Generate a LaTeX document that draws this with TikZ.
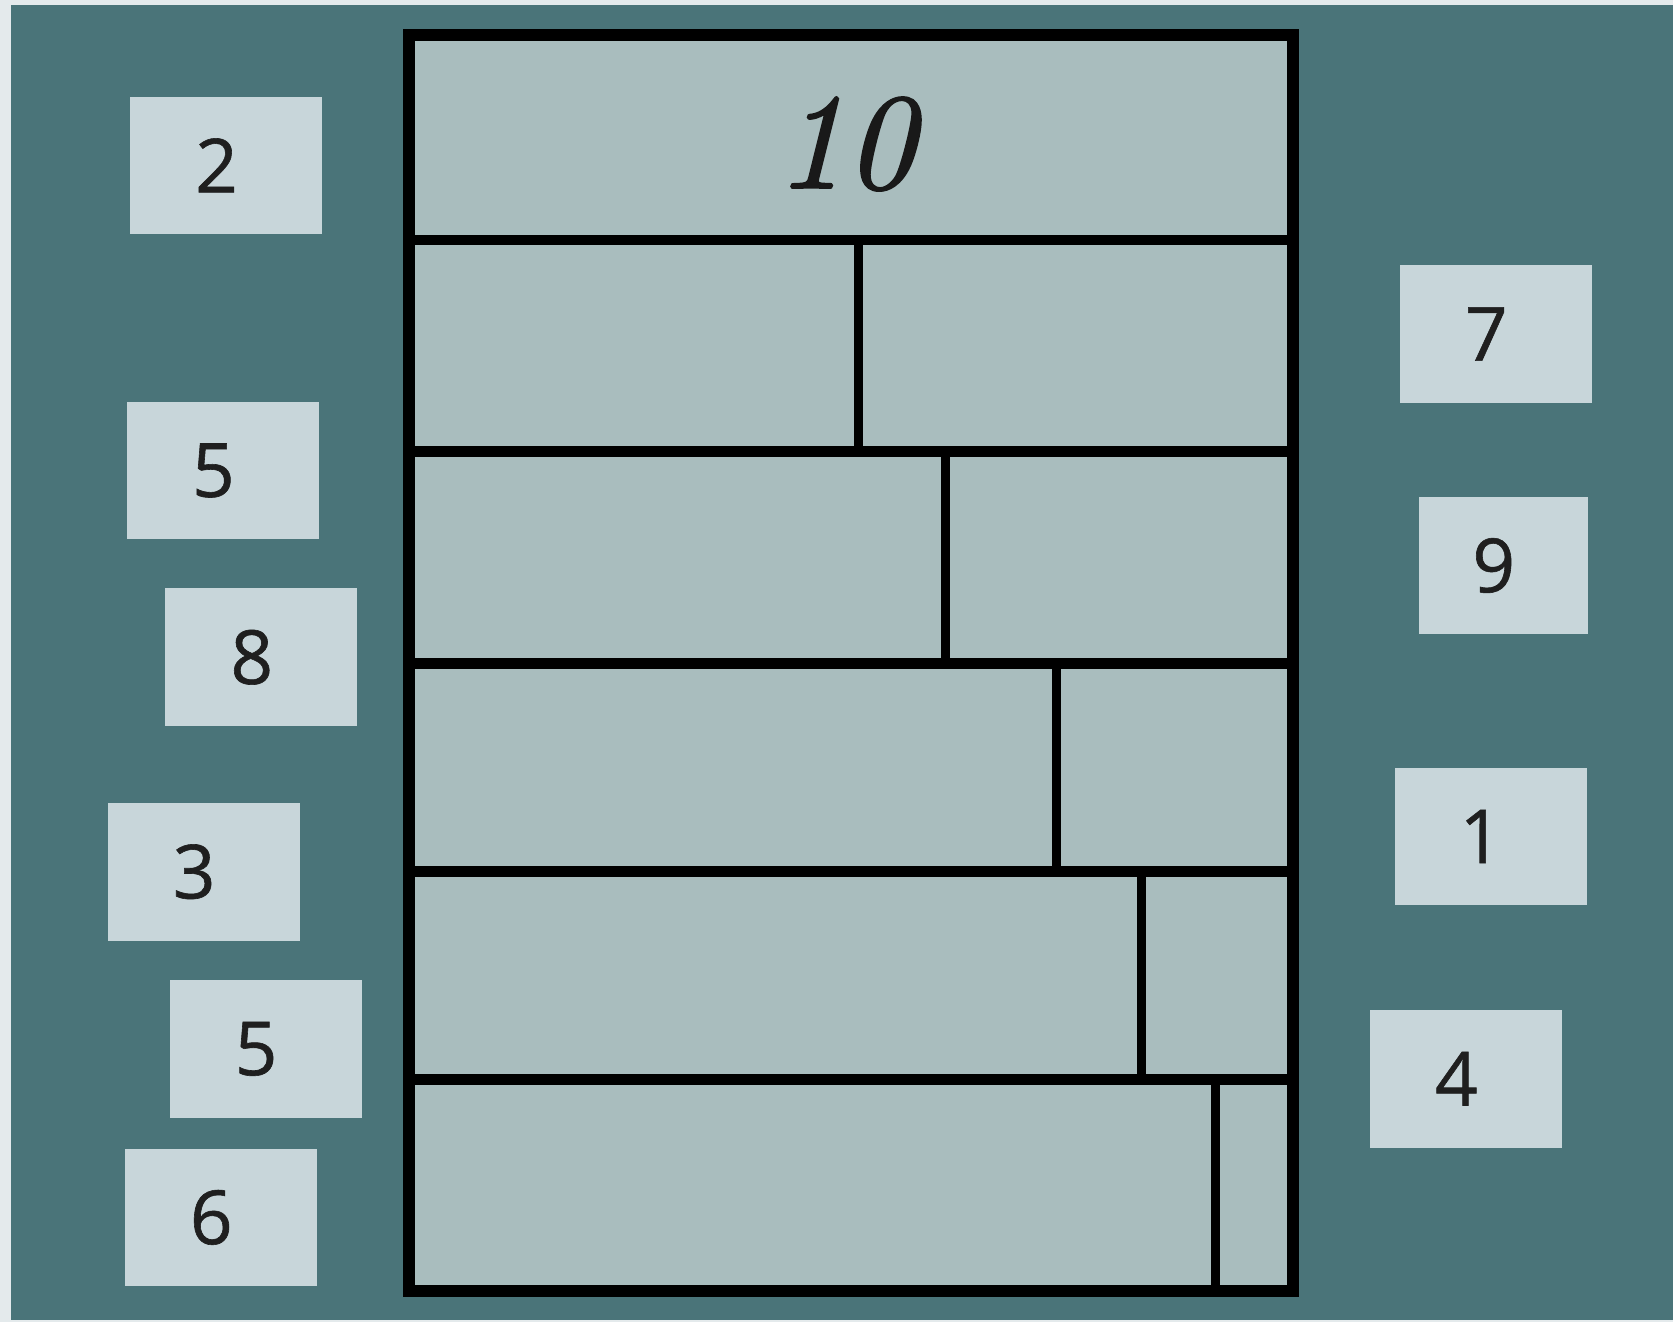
\documentclass[tikz,border=0pt]{standalone}
\usepackage{fontspec}
\newfontfamily\numfont{Open Sans}[FakeBold=0.8]
\newfontface\tenfont{lmroman10-italic.otf}[FakeBold=1.4]
\definecolor{bgteal}{HTML}{4A7479}
\definecolor{panelfill}{HTML}{A9BDBE}
\definecolor{cardfill}{HTML}{C8D6DA}
\definecolor{margin}{HTML}{E4EAEC}
\tikzset{
  numcard/.style={rectangle, fill=cardfill, minimum width=90pt, minimum height=64.5pt, inner sep=0pt,
    font=\numfont\fontsize{35}{35}\selectfont, text=black!88},
  divider/.style={line width=5pt, black},
  split/.style={line width=4.2pt, black},
}
\newcommand{\cardtext}[1]{#1\rule{9pt}{0pt}}
\begin{document}
\begin{tikzpicture}[x=0.5pt,y=-0.5pt]
\useasboundingbox (0,0) rectangle (1568,1239);
\fill[margin] (0,0) rectangle (1568,1239);
\fill[bgteal] (10,5) rectangle (1568,1237);
% panel
\fill[panelfill] (383,33) rectangle (1212,1210);
% horizontal dividers
\draw[divider] (383,225) -- (1212,225);
\draw[divider] (383,423) -- (1212,423);
\draw[divider] (383,622) -- (1212,622);
\draw[divider] (383,817) -- (1212,817);
\draw[divider] (383,1012) -- (1212,1012);
% vertical splits
\draw[split] (805,225) -- (805,423);
\draw[split] (886,423) -- (886,622);
\draw[split] (990,622) -- (990,817);
\draw[split] (1070,817) -- (1070,1012);
\draw[split] (1139,1012) -- (1139,1210);
% frame
\draw[line width=5.5pt, black] (383,33) rectangle (1212,1210);
\node[font=\tenfont\fontsize{64}{64}\selectfont, text=black!90] (ten) at (792,135) {10};
% left cards
\node[numcard] (c2) at (212,155) {\cardtext{2}};
\node[numcard] (c5a) at (209,441) {\cardtext{5}};
\node[numcard] (c8) at (245,616) {\cardtext{8}};
\node[numcard] (c3) at (191,817) {\cardtext{3}};
\node[numcard] (c5b) at (249,983) {\cardtext{5}};
\node[numcard] (c6) at (207,1141) {\cardtext{6}};
% right cards
\node[numcard] (c7) at (1402,313) {\cardtext{7}};
\node[numcard, minimum width=79pt] (c9) at (1409,530) {\cardtext{9}};
\node[numcard] (c1) at (1397,784) {\cardtext{1}};
\node[numcard] (c4) at (1374,1011) {\cardtext{4}};
\end{tikzpicture}
\end{document}
